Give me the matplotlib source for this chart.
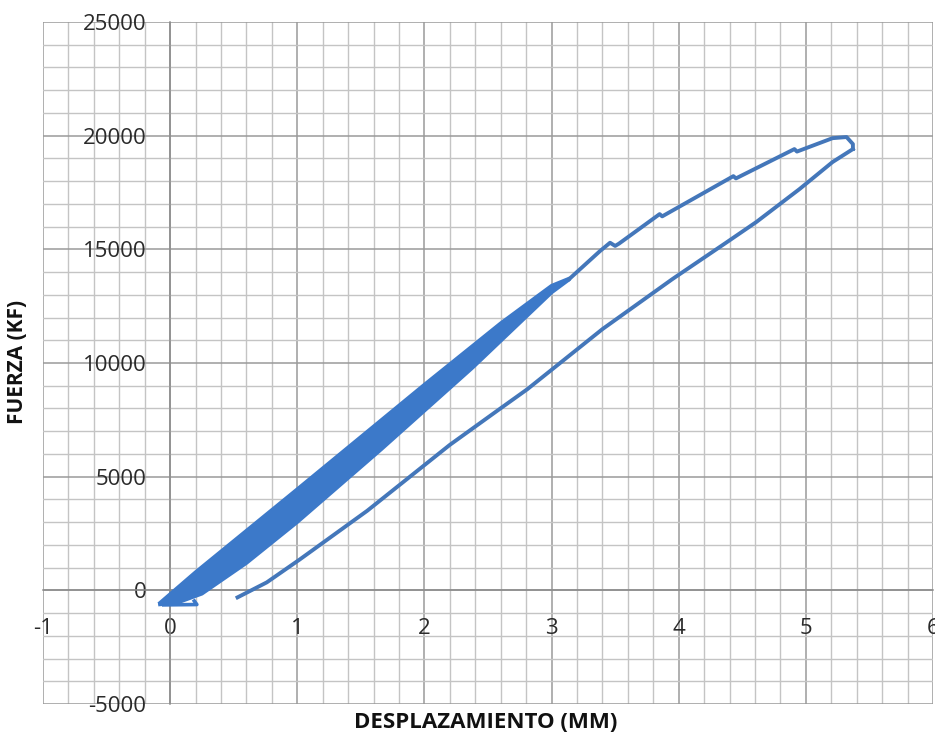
import matplotlib
matplotlib.use('Agg')
import matplotlib.pyplot as plt
from matplotlib.ticker import MultipleLocator

# ---- data ----
x_ticks = [-1, 0, 1, 2, 3, 4, 5, 6]
y_ticks = [-5000, 0, 5000, 10000, 15000, 20000, 25000]

# dense band of repeated cycles (upper and lower edge)
band_upper_x = [-0.08, 0.20, 1.00, 2.00, 2.60, 3.00, 3.14]
band_upper_y = [-550, 800, 4450, 9050, 11750, 13400, 13720]
band_lower_x = [3.14, 3.00, 2.38, 1.66, 1.00, 0.60, 0.25, 0.05, -0.08]
band_lower_y = [13680, 13100, 9800, 6200, 3000, 1200, -150, -560, -620]

# small tail at the bottom of the band
tail_x = [-0.05, 0.21, 0.19]
tail_y = [-640, -625, -470]

# final loading branch up to peak
load_x = [3.14, 3.38, 3.46, 3.50, 3.53, 3.85, 3.87, 4.43, 4.45, 4.91, 4.93, 5.21, 5.32, 5.37, 5.37]
load_y = [13700, 14920, 15290, 15150, 15250, 16550, 16450, 18220, 18120, 19410, 19300, 19890, 19940, 19630, 19410]

# unloading branch
unload_x = [5.37, 5.21, 4.95, 4.61, 4.38, 3.95, 3.40, 2.81, 2.59, 2.22, 2.20, 1.55, 1.02, 0.76, 0.53]
unload_y = [19410, 18840, 17650, 16200, 15320, 13690, 11490, 8850, 7970, 6480, 6400, 3500, 1360, 350, -310]

LINE = '#4477BA'
BAND = '#3C79C9'

plt.rcParams['font.family'] = ['Open Sans', 'DejaVu Sans']

fig = plt.figure(figsize=(9.35, 7.37), dpi=100)
ax = fig.add_axes([43/935, 1-704/737, 890/935, (704-22)/737])

ax.set_xlim(-1, 6)
ax.set_ylim(-5000, 25000)
ax.xaxis.set_minor_locator(MultipleLocator(0.2))
ax.yaxis.set_minor_locator(MultipleLocator(1000))
ax.set_xticks(x_ticks)
ax.set_yticks(y_ticks)
ax.set_xticklabels([str(v) for v in x_ticks])
ax.set_yticklabels([str(v) for v in y_ticks])

ax.grid(which='minor', color='#C4C4C4', linewidth=1.0)
ax.grid(which='major', color='#9A9A9A', linewidth=1.1)
ax.set_axisbelow(True)

for s in ['top', 'right']:
    ax.spines[s].set_visible(False)
ax.spines['left'].set_position(('data', 0))
ax.spines['bottom'].set_position(('data', 0))
for s in ['left', 'bottom']:
    ax.spines[s].set_color('#8C8C8C')
    ax.spines[s].set_linewidth(1.1)

ax.tick_params(which='both', length=0)
ax.tick_params(axis='y', pad=17, labelsize=16, labelcolor='#2A2A2A')
ax.tick_params(axis='x', pad=20, labelsize=16, labelcolor='#2A2A2A')

# band
bx = band_upper_x + band_lower_x
by = band_upper_y + band_lower_y
ax.fill(bx, by, color=BAND, linewidth=0, zorder=3)
ax.plot(bx, by, color=BAND, linewidth=2.6, zorder=3, solid_joinstyle='round')
ax.plot(tail_x, tail_y, color=BAND, linewidth=2.6, zorder=3, solid_joinstyle='round')

ax.plot(load_x, load_y, color=LINE, linewidth=2.8, zorder=4, solid_joinstyle='round')
ax.plot(unload_x, unload_y, color=LINE, linewidth=2.8, zorder=4, solid_joinstyle='round')

fig.text(486/935, 1-722/737, 'DESPLAZAMIENTO (MM)', ha='center', va='center',
         fontsize=16, fontweight='bold', color='#111111')
fig.text(18/935, 1-362/737, 'FUERZA (KF)', ha='center', va='center', rotation=90,
         fontsize=15, fontweight='bold', color='#111111')

fig.savefig('out.png', dpi=100)
